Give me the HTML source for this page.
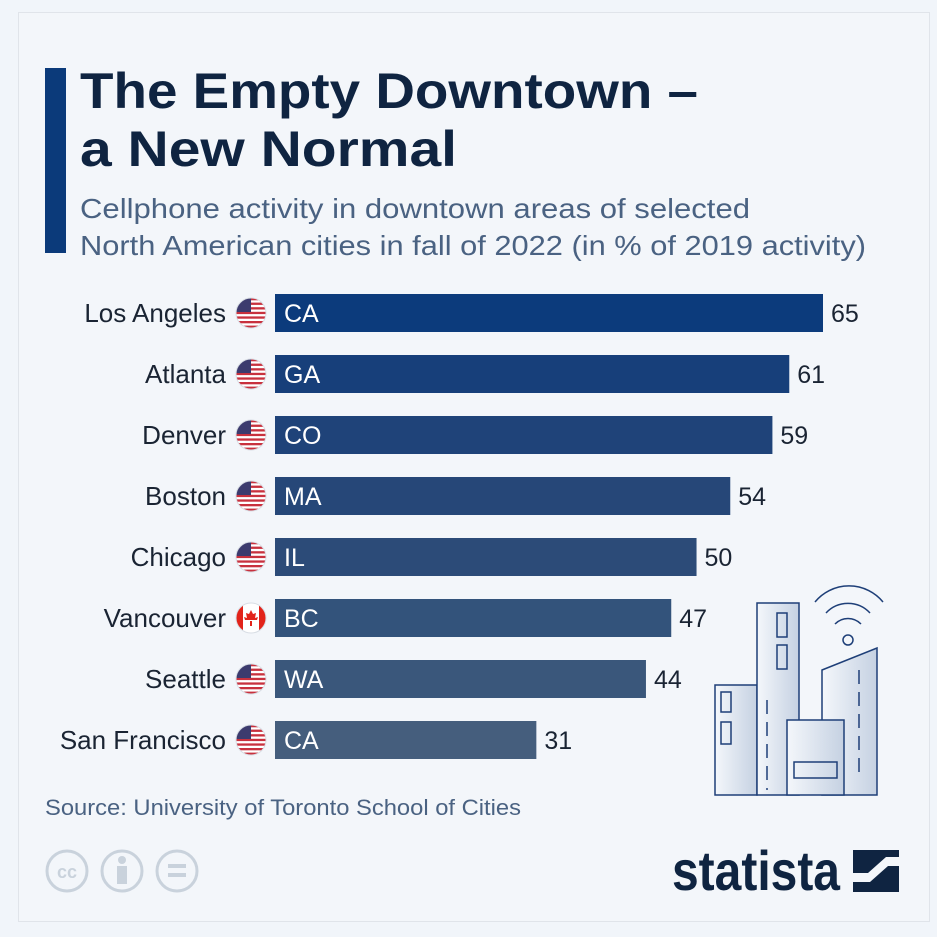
<!DOCTYPE html>
<html><head><meta charset="utf-8">
<style>
body{margin:0;width:937px;height:937px;background:#f1f5fa;overflow:hidden;font-family:"Liberation Sans",sans-serif}
#card{position:absolute;left:18px;top:12px;width:912px;height:910px;background:#f3f6fa;border:1px solid #e0e4ea;box-sizing:border-box}
</style></head><body>
<div id="card"></div>
<svg id="svg" width="937" height="937" style="position:absolute;left:0;top:0">
<defs>
<clipPath id="fc"><circle r="15"/></clipPath>
<linearGradient id="bg1" x1="0" x2="1"><stop offset="0" stop-color="#f4f7fb"/><stop offset="1" stop-color="#c5d1e2"/></linearGradient>
</defs>
<rect x="45" y="68" width="21" height="185" fill="#0b3a7a"/>
<text x="80" y="108" font-size="50" font-weight="bold" fill="#0f2441" textLength="618" lengthAdjust="spacingAndGlyphs">The Empty Downtown –</text>
<text x="80" y="166" font-size="50" font-weight="bold" fill="#0f2441" textLength="377" lengthAdjust="spacingAndGlyphs">a New Normal</text>
<text x="80" y="218" font-size="28" fill="#4a6282" textLength="670" lengthAdjust="spacingAndGlyphs">Cellphone activity in downtown areas of selected</text>
<text x="80" y="255" font-size="28" fill="#4a6282" textLength="786" lengthAdjust="spacingAndGlyphs">North American cities in fall of 2022 (in % of 2019 activity)</text>
<g id="bars"></g>
<text x="45" y="815" font-size="22" fill="#4a6282" textLength="476" lengthAdjust="spacingAndGlyphs">Source: University of Toronto School of Cities</text>
<g fill="none" stroke="#c9d2dc" stroke-width="3">
<circle cx="67" cy="871" r="20"/><circle cx="122" cy="871" r="20"/><circle cx="177" cy="871" r="20"/>
</g>
<text x="67" y="878" font-size="18" font-weight="bold" fill="#c9d2dc" text-anchor="middle">cc</text>
<circle cx="122" cy="860" r="4" fill="#c9d2dc"/><rect x="117" y="866" width="10" height="18" fill="#c9d2dc"/>
<rect x="168" y="864" width="18" height="4" fill="#c9d2dc"/><rect x="168" y="873" width="18" height="4" fill="#c9d2dc"/>
<text x="672" y="890" font-size="56" font-weight="bold" fill="#0f2441" textLength="168" lengthAdjust="spacingAndGlyphs">statista</text>
<g>
<rect x="853" y="850" width="46" height="42" fill="#0f2441"/>
<path d="M853 873 L868 873 L886 857 L899 857 L899 866 L888 866 L870 882 L853 882Z" fill="#f3f6fa"/>
</g>
<g stroke="#1e3f78" stroke-width="1.5" fill="url(#bg1)">
<rect x="715" y="685" width="42" height="110"/>
<rect x="757" y="603" width="42" height="192"/>
<path d="M822 670 L877 648 V795 H822Z"/>
<rect x="787" y="720" width="57" height="75"/>
<rect x="721" y="692" width="10" height="20" fill="none"/><rect x="721" y="722" width="10" height="22" fill="none"/>
<rect x="777" y="613" width="10" height="24" fill="none"/><rect x="777" y="645" width="10" height="24" fill="none"/>
<rect x="794" y="762" width="43" height="16" fill="none"/>
<path d="M767 700v90 M859 670v110" stroke-dasharray="14 8" fill="none"/>
<circle cx="848" cy="640" r="5" fill="none"/>
<path d="M835 624a18 18 0 0 1 26 0 M826 613a30 30 0 0 1 44 0 M815 602a44 44 0 0 1 68 0" fill="none"/>
</g>
</svg>
<script>
const cities=["Los Angeles","Atlanta","Denver","Boston","Chicago","Vancouver","Seattle","San Francisco"];
const codes=["CA","GA","CO","MA","IL","BC","WA","CA"];
const values=[65,61,59,54,50,47,44,31];
const countries=["us","us","us","us","us","ca","us","us"];
const colors=["#0c3b7c","#173f7a","#1f4379","#264778","#2c4b78","#33537b","#3a577b","#455e7d"];
const NS="http://www.w3.org/2000/svg";
const g=document.getElementById("bars");
const x0=275,scale=548/65,y0=313,step=61,bh=38;
const xs=v=>v*scale;
function mk(t,a,p){const e=document.createElementNS(NS,t);for(const k in a)e.setAttribute(k,a[k]);(p||g).appendChild(e);return e;}
cities.forEach((c,i)=>{
 const cy=y0+i*step;
 const r=mk("rect",{x:x0,y:cy-bh/2,width:xs(values[i]),height:bh,fill:colors[i]});
 
 
 const lab=mk("text",{x:226,y:cy+9,"font-size":26,fill:"#1a2433","text-anchor":"end"});lab.textContent=c;
 
 
 const cd=mk("text",{x:x0+9,y:cy+9,"font-size":25,fill:"#ffffff"});cd.textContent=codes[i];
 
 
 const vl=mk("text",{x:x0+xs(values[i])+8,y:cy+9,"font-size":25,fill:"#1a2433"});vl.textContent=values[i];
 
 
 const fg=mk("g",{transform:`translate(251,${cy})`});
 
 
 const inner=mk("g",{"clip-path":"url(#fc)"},fg);
 if(countries[i]==="us"){
  mk("rect",{x:-16,y:-16,width:32,height:32,fill:"#fff"},inner);
  for(let s=0;s<7;s++)mk("rect",{x:-16,y:-15+s*4.6,width:32,height:2.3,fill:"#c8313e"},inner);
  mk("rect",{x:-16,y:-16,width:16,height:15,fill:"#3c3b6e"},inner);
 }else{
  mk("rect",{x:-16,y:-16,width:32,height:32,fill:"#fff"},inner);
  mk("rect",{x:-16,y:-16,width:8,height:32,fill:"#e2231a"},inner);
  mk("rect",{x:8,y:-16,width:8,height:32,fill:"#e2231a"},inner);
  mk("path",{d:"M0-8l2 4 3-1-1 5 3-1-1 3-6 0-6 0-1-3 3 1-1-5 3 1z M-1 3h2v5h-2z",fill:"#e2231a"},inner);
 }
 mk("circle",{r:15,fill:"none",stroke:"#d8dde4","stroke-width":1},fg);
});
</script>
</body></html>
